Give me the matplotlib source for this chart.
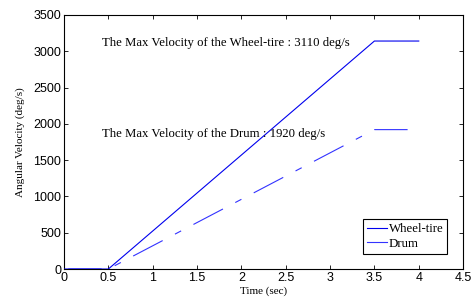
"""Angular velocity of wheel-tire and drum through time."""
import matplotlib
matplotlib.use('Agg')
import matplotlib.pyplot as plt

# data
time_wheel = [0.0, 0.5, 3.5, 4.0]
vel_wheel = [0, 0, 3140, 3140]
time_drum = [0.0, 0.5, 3.5, 4.0]
vel_drum = [0, 0, 1920, 1920]

x_ticks = [0, 0.5, 1, 1.5, 2, 2.5, 3, 3.5, 4, 4.5]
y_ticks = [0, 500, 1000, 1500, 2000, 2500, 3000, 3500]

SERIF = ['Liberation Serif', 'DejaVu Serif']
SANS = ['Liberation Sans', 'DejaVu Sans']

plt.rcParams['lines.scale_dashes'] = False

fig = plt.figure(figsize=(4.74, 3.04), dpi=100)
ax = fig.add_axes([0.135, 0.115, 0.842, 0.836])

ax.plot(time_drum, vel_drum, color='#3333ff', lw=0.8,
        linestyle=(45.9, (24, 10, 5, 10)), label='Drum', zorder=2)
ax.plot(time_wheel, vel_wheel, color='#0000ee', lw=0.8,
        label='Wheel-tire', zorder=3)

ax.text(0.43, 3115, 'The Max Velocity of the Wheel-tire : 3110 deg/s',
        family=SERIF, fontsize=9.2, va='center', ha='left')
ax.text(0.43, 1860, 'The Max Velocity of the Drum : 1920 deg/s',
        family=SERIF, fontsize=9.2, va='center', ha='left')

ax.set_xlim(0, 4.5)
ax.set_ylim(0, 3500)
ax.set_xticks(x_ticks)
ax.set_xticklabels([f'{t:g}' for t in x_ticks], family=SANS, fontsize=9)
ax.set_yticks(y_ticks)
ax.set_yticklabels([str(v) for v in y_ticks], family=SANS, fontsize=9)
ax.tick_params(direction='in', top=True, right=True, length=3, width=0.6, pad=2)
for s in ax.spines.values():
    s.set_linewidth(0.8)

ax.set_xlabel('Time (sec)', family=SERIF, fontsize=8, labelpad=2)
ax.set_ylabel('Angular Velocity (deg/s)', family=SERIF, fontsize=8, labelpad=6)

handles, labels = ax.get_legend_handles_labels()
leg = ax.legend(handles[::-1], labels[::-1], loc='lower right',
                bbox_to_anchor=(0.96, 0.06), prop={'family': SERIF, 'size': 9.3},
                fancybox=False, framealpha=1, edgecolor='black',
                handlelength=1.6, handletextpad=0.1, borderpad=0.3,
                labelspacing=0.2, borderaxespad=0)
leg.get_frame().set_linewidth(0.8)
leg.legend_handles[1].set_linestyle('-')

fig.savefig('out.png', dpi=100)
